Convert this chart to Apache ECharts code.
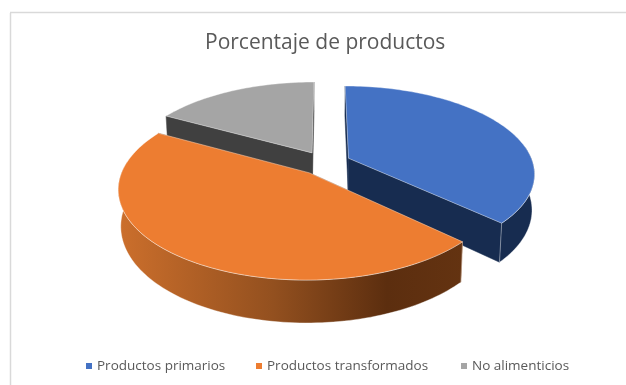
<!DOCTYPE html>
<html>
<head>
<meta charset="utf-8">
<style>html,body{margin:0;padding:0;background:#fff}#chart{width:626px;height:385px}</style>
<script src="https://cdn.jsdelivr.net/npm/echarts@6/dist/echarts.min.js"></script>
</head>
<body>
<div id="chart"></div>
<script>
// Chart content
const chartTitle = 'Porcentaje de productos';
const categories = ['Productos primarios', 'Productos transformados', 'No alimenticios'];
const shares = [37, 46, 17];

// Slice colours: top face and side face
const topColors = ['#4472C4', '#ED7D31', '#A5A5A5'];
const sideColors = ['#172C50', '#8A4A1C', '#404040'];

// Projection of the tilted disc onto the page
const view = { cx: 325, cy: 163, a: 184.5, b: 85.7, k: 0.166, depth: 35, shrink: 0.988, explode: 0.14 };

// Left edge of each legend entry
const legendLefts = [81, 251, 456];

const total = shares.reduce((s, v) => s + v, 0);

// Start and end angle of a slice, clockwise from twelve o'clock
function sliceAngles(index) {
  const before = shares.slice(0, index).reduce((s, v) => s + v, 0);
  return [before / total * Math.PI * 2, (before + shares[index]) / total * Math.PI * 2];
}

function project(u, v, lower) {
  const w = 1 / (1 - view.k * v);
  const scale = lower ? view.shrink : 1;
  return [
    view.cx + view.a * u * w * scale,
    view.cy + view.b * v * w + (lower ? view.depth * w : 0)
  ];
}

function renderSlice(index) {
  const [start, end] = sliceAngles(index);
  const mid = (start + end) / 2;
  const ou = view.explode * Math.sin(mid);
  const ov = -view.explode * Math.cos(mid);
  const rim = (t, lower) => project(ou + Math.sin(t), ov - Math.cos(t), lower);

  const arcAngles = [];
  const steps = Math.max(12, Math.round((end - start) * 40));
  for (let i = 0; i <= steps; i++) arcAngles.push(start + (end - start) * i / steps);

  const apexTop = project(ou, ov, false);
  const apexLow = project(ou, ov, true);
  const rimTop = arcAngles.map(t => rim(t, false));

  // Only the part of the rim facing the viewer gets a side wall
  const frontAngles = arcAngles.filter(t => Math.cos(t) < 0.15);
  const wallTop = frontAngles.map(t => rim(t, false));
  const wallLow = frontAngles.map(t => rim(t, true));

  const edge = { stroke: 'rgba(255,255,255,0.55)', lineWidth: 0.7 };
  let sideFill = sideColors[index];
  if (index === 1) {
    sideFill = {
      type: 'linear', x: 0, y: 0, x2: 1, y2: 0,
      colorStops: [
        { offset: 0, color: '#CC6F2C' },
        { offset: 0.45, color: '#93501F' },
        { offset: 0.78, color: '#5C2E0F' },
        { offset: 1, color: '#643311' }
      ]
    };
  }

  const polygon = (points, fill, stroke) => ({
    type: 'polygon',
    shape: { points },
    style: Object.assign({ fill }, stroke || { stroke: fill, lineWidth: 0.5 })
  });

  const children = [
    polygon([apexTop, rim(start, false), rim(start, true), apexLow], sideColors[index]),
    polygon([apexTop, rim(end, false), rim(end, true), apexLow], sideColors[index])
  ];
  if (frontAngles.length > 1) {
    children.push(polygon(wallTop.concat(wallLow.slice().reverse()), sideFill, edge));
  }
  children.push(polygon([apexTop].concat(rimTop), topColors[index], edge));

  return { type: 'group', children };
}

// Paint from the back of the disc to the front so nearer slices overlap
const paintOrder = [2, 0, 1];

const chart = echarts.init(document.getElementById('chart'));
chart.setOption({
  animation: false,
  backgroundColor: '#fff',
  title: {
    text: chartTitle,
    left: 200,
    top: 28,
    textStyle: { fontFamily: 'Open Sans', fontSize: 21, fontWeight: 'normal', color: '#595959' }
  },
  legend: categories.map((name, i) => ({
    data: [name],
    left: legendLefts[i],
    top: 354,
    icon: 'rect',
    itemWidth: 6,
    itemHeight: 6,
    textStyle: { fontFamily: 'Open Sans', fontSize: 13.5, color: '#595959' }
  })),
  graphic: [
    { type: 'line', silent: true, z: -1, shape: { x1: 10.5, y1: 13, x2: 10.5, y2: 385 }, style: { stroke: '#D9D9D9', lineWidth: 1.5 } },
    { type: 'line', silent: true, z: -1, shape: { x1: 10, y1: 12.5, x2: 626, y2: 12.5 }, style: { stroke: '#D9D9D9', lineWidth: 1.5 } }
  ],
  series: paintOrder.map(index => ({
    type: 'custom',
    name: categories[index],
    coordinateSystem: 'none',
    itemStyle: { color: topColors[index] },
    data: [[shares[index]]],
    renderItem: () => renderSlice(index)
  }))
});
</script>
</body>
</html>
